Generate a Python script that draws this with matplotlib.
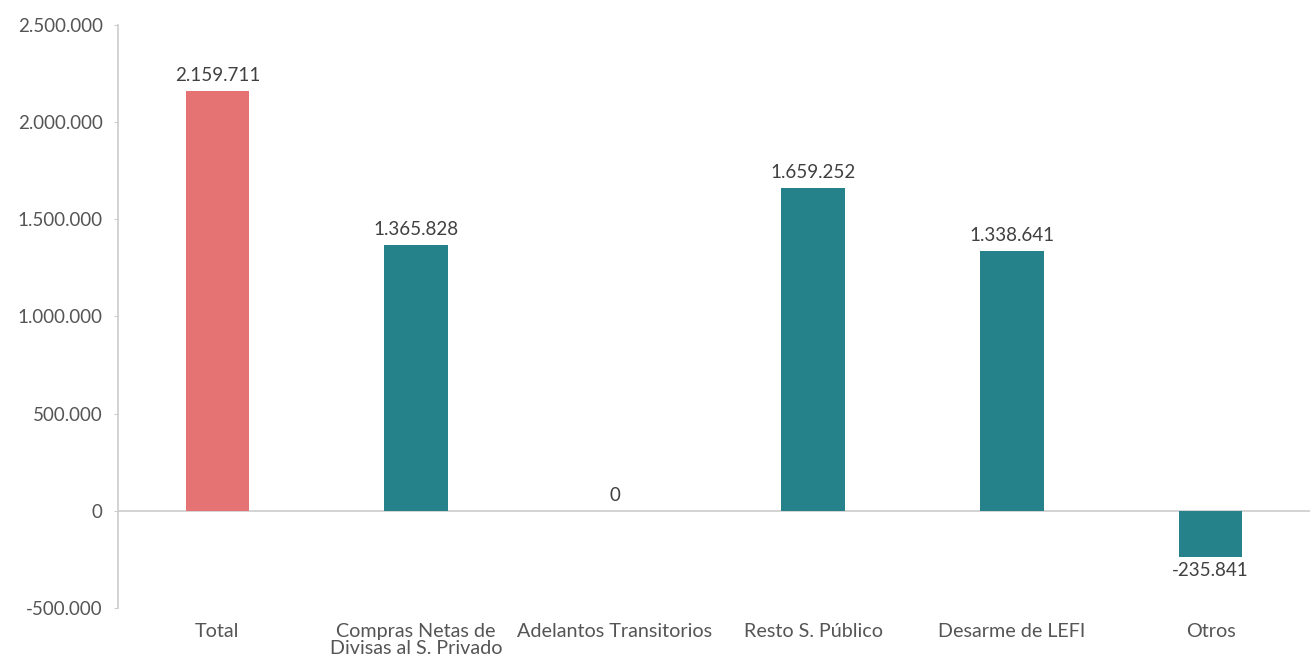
from matplotlib import pyplot as plt
import numpy as np

categories = ['Total', 'Compras Netas de\nDivisas al S. Privado', 'Adelantos Transitorios',
              'Resto S. Público', 'Desarme de LEFI', 'Otros']
values = [2159711, 1365828, 0, 1659252, 1338641, -235841]
bar_colors = ['#E57373', '#26828A', '#26828A', '#26828A', '#26828A', '#26828A']
yticks = [-500000, 0, 500000, 1000000, 1500000, 2000000, 2500000]

TEXT_COL = '#555555'
plt.rcParams['font.family'] = ['Lato', 'DejaVu Sans']


def fmt(v):
    return '{:,.0f}'.format(v).replace(',', '.')


def main():
    fig = plt.figure(figsize=(13.13, 6.57), dpi=100)
    ax = fig.add_axes([0.0899, 0.0746, 0.9077, 0.8874])

    x = np.arange(len(categories))
    ax.bar(x, values, width=0.32, color=bar_colors, zorder=2)
    ax.axhline(0, color='#cccccc', lw=1.2, zorder=1)

    # value labels above / below each bar
    for xi, v in zip(x, values):
        if v >= 0:
            ax.annotate(fmt(v), (xi, v), xytext=(0, 5), textcoords='offset points',
                        ha='center', va='bottom', fontsize=13.5, color='#404040')
        else:
            ax.annotate(fmt(v), (xi, v), xytext=(0, -4), textcoords='offset points',
                        ha='center', va='top', fontsize=13.5, color='#404040')

    ax.set_xlim(-0.5, 5.5)
    ax.set_ylim(-500000, 2500000)
    ax.set_yticks(yticks)
    ax.set_yticklabels([fmt(t) for t in yticks], fontsize=13.5, color=TEXT_COL)
    ax.set_xticks(x)
    ax.set_xticklabels(categories, fontsize=14.2, color=TEXT_COL, linespacing=0.95)
    ax.tick_params(axis='x', length=0, pad=11)
    ax.tick_params(axis='y', length=3, color='#cccccc', pad=8)

    for s in ['top', 'right', 'bottom']:
        ax.spines[s].set_visible(False)
    ax.spines['left'].set_color('#cccccc')
    ax.spines['left'].set_linewidth(1.2)

    fig.savefig('out.png', dpi=100)
    plt.close(fig)


if __name__ == '__main__': main()
